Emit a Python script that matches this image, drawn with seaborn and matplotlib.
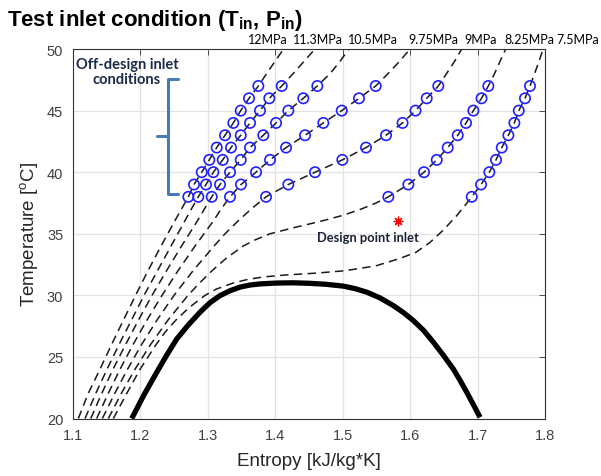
import matplotlib
matplotlib.use("Agg")
import matplotlib.pyplot as plt
import pandas as pd
import seaborn as sns

# --- data: entropy [kJ/kg*K], temperature [degC] ---
pressures = ["12MPa", "11.3MPa", "10.5MPa", "9.75MPa", "9MPa", "8.25MPa", "7.5MPa"]

# test inlet points (blue circles) on each isobar, 38..47 degC
test_T = [38, 39, 40, 41, 42, 43, 44, 45, 46, 47]
test_s = {
    "12MPa":   [1.2710, 1.2794, 1.2909, 1.3021, 1.3131, 1.3254, 1.3377, 1.3487, 1.3610, 1.3748],
    "11.3MPa": [1.2858, 1.2972, 1.3081, 1.3220, 1.3343, 1.3487, 1.3625, 1.3773, 1.3911, 1.4095],
    "10.5MPa": [1.3057, 1.3180, 1.3328, 1.3487, 1.3625, 1.3822, 1.4011, 1.4193, 1.4415, 1.4623],
    "9.75MPa": [1.3328, 1.3491, 1.3714, 1.3922, 1.4159, 1.4441, 1.4712, 1.4985, 1.5241, 1.5489],
    "9MPa":    [1.3862, 1.4193, 1.4589, 1.4994, 1.5345, 1.5642, 1.5887, 1.6079, 1.6245, 1.6417],
    "8.25MPa": [1.5676, 1.5973, 1.6205, 1.6394, 1.6557, 1.6705, 1.6828, 1.6937, 1.7058, 1.7159],
    "7.5MPa":  [1.6913, 1.7051, 1.7174, 1.7273, 1.7358, 1.7456, 1.7545, 1.7610, 1.7703, 1.7777],
}

# isobar path below the test points
low_T = {
    "12MPa":   [20, 22, 24, 26, 28, 30, 32, 34, 36],
    "11.3MPa": [20, 22, 24, 26, 28, 30, 32, 34, 36, 37],
    "10.5MPa": [20, 22, 24, 26, 28, 30, 32, 34, 36, 37],
    "9.75MPa": [20, 22, 24, 26, 28, 30, 32, 34, 36, 37],
    "9MPa":    [20, 22, 24, 26, 28, 30, 32, 34, 35, 36, 37],
    "8.25MPa": [20, 22, 24, 26, 28, 30, 31, 32, 33, 34, 34.5, 35, 35.5, 36, 36.5, 37, 37.5],
    "7.5MPa":  [20, 22, 24, 26, 27, 28, 29, 30, 30.5, 31, 31.3, 31.5, 31.65, 31.8, 32.0,
                32.4, 33.0, 33.5, 34.3, 35.3, 36.5, 37.3],
}
low_s = {
    "12MPa":   [1.1079, 1.1222, 1.1400, 1.1571, 1.1749, 1.1927, 1.2112, 1.2305, 1.2505],
    "11.3MPa": [1.1178, 1.1334, 1.1504, 1.1682, 1.1868, 1.2053, 1.2253, 1.2453, 1.2654, 1.2754],
    "10.5MPa": [1.1263, 1.1423, 1.1593, 1.1779, 1.1971, 1.2172, 1.2387, 1.2609, 1.2839, 1.2947],
    "9.75MPa": [1.1351, 1.1519, 1.1697, 1.1890, 1.2097, 1.2320, 1.2557, 1.2809, 1.3076, 1.3195],
    "9MPa":    [1.1435, 1.1615, 1.1808, 1.2016, 1.2246, 1.2498, 1.2780, 1.3091, 1.3254, 1.3440, 1.3640],
    "8.25MPa": [1.1524, 1.1712, 1.1919, 1.2149, 1.2409, 1.2705, 1.2876, 1.3061, 1.3269, 1.3521,
                1.3699, 1.3921, 1.4277, 1.4663, 1.5004, 1.5271, 1.5494],
    "7.5MPa":  [1.1598, 1.1793, 1.1994, 1.2231, 1.2364, 1.2527, 1.2720, 1.2958, 1.3121, 1.3373,
                1.3595, 1.3832, 1.4144, 1.4589, 1.5034, 1.5494, 1.5849, 1.6087, 1.6294, 1.6491,
                1.6695, 1.6813],
}

# isobar path above the test points, up to the top of the frame
high_T = [48, 49, 50]
high_s = {
    "12MPa":   [1.3870, 1.3996, 1.4122],
    "11.3MPa": [1.4263, 1.4426, 1.4589],
    "10.5MPa": [1.4811, 1.4960, 1.5089],
    "9.75MPa": [1.5671, 1.5842, 1.5998],
    "9MPa":    [1.6539, 1.6658, 1.6764],
    "8.25MPa": [1.7251, 1.7332, 1.7417],
    "7.5MPa":  [1.7844, 1.7911, 1.7970],
}

# saturation dome
dome_s = [1.1871, 1.2050, 1.2241, 1.2390, 1.2538, 1.2710, 1.2883, 1.3030, 1.3180, 1.3330,
          1.3477, 1.3625, 1.3773, 1.4021, 1.4267, 1.4500, 1.4750, 1.5009, 1.5180, 1.5356,
          1.5550, 1.5750, 1.5900, 1.6047, 1.6200, 1.6343, 1.6490, 1.6640, 1.6740, 1.6839,
          1.6940, 1.7036]
dome_T = [20.0, 21.9, 23.75, 25.15, 26.46, 27.6, 28.63, 29.4, 29.98, 30.38,
          30.67, 30.84, 30.93, 31.0, 31.02, 30.98, 30.9, 30.75, 30.55, 30.26,
          29.8, 29.17, 28.6, 27.95, 27.15, 26.2, 25.15, 24.02, 23.1, 22.13,
          21.1, 20.1]

design_s = [1.582]
design_T = [36.06]

# --- long-form tables ---
curve_rows = []
point_rows = []
for p in pressures:
    for s, t in zip(low_s[p] + test_s[p] + high_s[p], low_T[p] + test_T + high_T):
        curve_rows.append({"p": p, "s": s, "T": t})
    for s, t in zip(test_s[p], test_T):
        point_rows.append({"p": p, "s": s, "T": t})
curves = pd.DataFrame(curve_rows)
points = pd.DataFrame(point_rows)
dome = pd.DataFrame({"s": dome_s, "T": dome_T})
design = pd.DataFrame({"s": design_s, "T": design_T})

# --- style ---
sns.set_style("white")
plt.rcParams["font.family"] = ["Liberation Sans", "DejaVu Sans"]
plt.rcParams["mathtext.fontset"] = "custom"
plt.rcParams["mathtext.rm"] = "Liberation Sans"
plt.rcParams["mathtext.bf"] = "Liberation Sans:bold"
plt.rcParams["mathtext.it"] = "Liberation Sans:italic"

fig = plt.figure(figsize=(6.01, 4.77), dpi=100)
ax = fig.add_axes([0.1215, 0.1205, 0.7854, 0.7746])

sns.lineplot(data=curves, x="s", y="T", units="p", estimator=None, sort=False,
             color="#1a1a1a", lw=1.1, linestyle=(0, (5.5, 3.5)), ax=ax)
sns.lineplot(data=dome, x="s", y="T", estimator=None, sort=False,
             color="black", lw=3.8, solid_capstyle="butt", solid_joinstyle="round", ax=ax)
sns.scatterplot(data=points, x="s", y="T", marker="o", s=55, color="blue",
                facecolor="none", edgecolor="#2020ff", linewidth=1.2, zorder=4, ax=ax)
sns.scatterplot(data=design, x="s", y="T", marker=(8, 2, 0), s=40, color="red",
                edgecolor="#ff2020", linewidth=0.9, zorder=5, ax=ax)

# --- axes ---
ax.set_xlim(1.1, 1.8)
ax.set_ylim(20, 50)
ax.set_xticks([1.1, 1.2, 1.3, 1.4, 1.5, 1.6, 1.7, 1.8])
ax.set_yticks([20, 25, 30, 35, 40, 45, 50])
ax.tick_params(direction="in", top=True, right=True, length=4, width=0.6,
               labelsize=10.5, labelcolor="#404040", color="#333333", pad=7)
ax.grid(True, color="#e2e2e2", lw=0.9)
ax.set_axisbelow(True)
for sp in ax.spines.values():
    sp.set_color("#333333")
    sp.set_linewidth(0.8)
ax.set_xlabel("Entropy [kJ/kg*K]", fontsize=13.5, color="#262626", labelpad=7)
ax.set_ylabel(r"Temperature [$^{\mathregular{o}}$C]", fontsize=13.5, color="#262626", labelpad=5)

# --- annotations ---
fig.text(0.012, 0.957, r"Test inlet condition (T$_{\mathbf{in}}$, P$_{\mathbf{in}}$)",
         fontsize=16, fontweight="bold", color="black", ha="left", va="center")

label_x = [268, 318, 373, 433, 480.5, 529, 578]
for name, px in zip(pressures, label_x):
    fig.text(px / 601, 1 - 40 / 477, name, fontsize=9.0, color="black",
             ha="center", va="center", family=["Lato", "DejaVu Sans"])

ax.text(1.180, 48.2, "Off-design inlet\nconditions", ha="center", va="center",
        fontsize=10.5, fontweight="bold", color="#1b2a48", family=["Lato", "DejaVu Sans"],
        linespacing=1.1)
bracket = "#4a7ab5"
ax.plot([1.2557, 1.2409, 1.2409, 1.2557], [47.55, 47.55, 38.25, 38.25], color=bracket,
        lw=2.2, solid_joinstyle="round")
ax.plot([1.2409, 1.2241], [42.9, 42.9], color=bracket, lw=2.2)

ax.text(1.5375, 34.76, "Design point inlet", ha="center", va="center", fontsize=9.3,
        color="#1b2233", family=["Lato", "DejaVu Sans"], fontweight="bold")

fig.savefig("out.png", dpi=100)
